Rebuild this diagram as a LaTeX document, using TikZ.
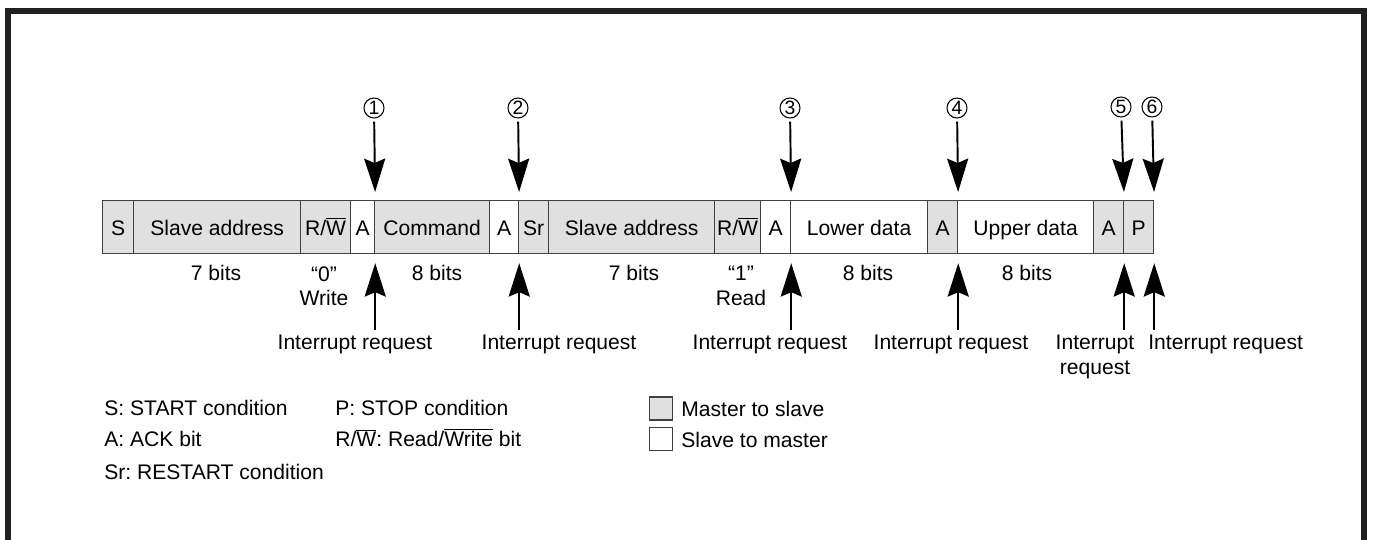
\documentclass[tikz,border=0pt]{standalone}
\usepackage{fontspec}
\setmainfont{Liberation Sans}
\usetikzlibrary{arrows.meta}
\definecolor{cellgray}{RGB}{224,224,224}
\definecolor{framegray}{RGB}{35,31,32}
\newcommand\ovl[1]{$\overline{\mbox{#1}}$}
\newcommand\rw{R/\ovl{W}}
\frenchspacing

\begin{document}
\begin{tikzpicture}[x=0.02cm, y=-0.02cm,
  font=\fontsize{12}{14}\selectfont,
  >={Stealth[length=19pt, width=12pt, inset=2.5pt]},
  cellbox/.style={draw=black!75, line width=0.7pt, inner sep=0pt,
    minimum height=1.06cm, text height=0.9em, text depth=0pt, anchor=north west},
  mcell/.style={cellbox, fill=cellgray},
  scell/.style={cellbox, fill=white},
  keybox/.style={draw=black!75, line width=0.7pt, inner sep=0pt, minimum size=0.46cm},
  irq/.style={->, line width=1.1pt},
  lbl/.style={inner sep=0pt},
  num/.style={circle, draw, line width=0.6pt, inner sep=0pt, minimum size=0.4cm,
    font=\fontsize{11}{12}\selectfont}]
  \useasboundingbox (0,0) rectangle (1374,540);
  % Frame (open at the bottom)
  \draw[framegray, line width=3.4pt] (8,540) -- (8,11) -- (1364,11) -- (1364,540);
  % Bit fields: left/right edge, text, style, name
  \foreach \xa/\xb/\txt/\sty/\nm in {102/133/S/mcell/s, 133/300/Slave address/mcell/sa1,
      300/350/\rw/mcell/rw1, 350/374/A/scell/a1, 374/489/Command/mcell/cmd,
      489/518/A/scell/a2, 518/548/Sr/mcell/sr, 548/714/Slave address/mcell/sa2,
      714/760/\rw/mcell/rw2, 760/790/A/scell/a3, 790/927/Lower data/scell/lo,
      927/957/A/mcell/a4, 957/1093/Upper data/scell/up, 1093/1123/A/mcell/a5,
      1123/1153/P/mcell/p} {
    \node[\sty, minimum width={(\xb-\xa)*0.02cm}] (\nm) at (\xa,200) {\txt};
  }
  % Field widths under the bar
  \node[lbl, anchor=base] (w1) at (216,281) {7 bits};
  \node[lbl, anchor=north, align=center] (w2) at (324,266) {“0”\\Write};
  \node[lbl, anchor=base] (w3) at (437,281) {8 bits};
  \node[lbl, anchor=base] (w4) at (634,281) {7 bits};
  \node[lbl, anchor=north, align=center] (w5) at (741,266) {“1”\\Read};
  \node[lbl, anchor=base] (w6) at (868,281) {8 bits};
  \node[lbl, anchor=base] (w7) at (1027,281) {8 bits};
  % Numbered points
  \node[num] (n1) at (374,108) {1};
  \node[num] (n2) at (518,108) {2};
  \node[num] (n3) at (790,108) {3};
  \node[num] (n4) at (957,108) {4};
  \node[num] (n5) at (1121,107) {5};
  \node[num] (n6) at (1152,107) {6};
  \draw[irq, shorten >=0.16cm, shorten <=0.06cm] (n1) -- (a1.north east);
  \draw[irq, shorten >=0.16cm, shorten <=0.06cm] (n2) -- (a2.north east);
  \draw[irq, shorten >=0.16cm, shorten <=0.06cm] (n3) -- (a3.north east);
  \draw[irq, shorten >=0.16cm, shorten <=0.06cm] (n4) -- (a4.north east);
  \draw[irq, shorten >=0.16cm, shorten <=0.06cm] (n5) -- (a5.north east);
  \draw[irq, shorten >=0.16cm, shorten <=0.06cm] (n6) -- (p.north east);
  % Interrupt requests
  \node[lbl, anchor=base] (q1) at (355,350) {Interrupt request};
  \node[lbl, anchor=base] (q2) at (559,350) {Interrupt request};
  \node[lbl, anchor=base] (q3) at (770,350) {Interrupt request};
  \node[lbl, anchor=base] (q4) at (951,350) {Interrupt request};
  \node[lbl, anchor=north, align=center] (q5) at (1095,335) {Interrupt\\request};
  \node[lbl, anchor=base west] (q6) at (1148,350) {Interrupt request};
  \draw[irq, shorten >=0.18cm, shorten <=0.1cm] (a1.south east |- q1.north) -- (a1.south east);
  \draw[irq, shorten >=0.18cm, shorten <=0.1cm] (a2.south east |- q2.north) -- (a2.south east);
  \draw[irq, shorten >=0.18cm, shorten <=0.1cm] (a3.south east |- q3.north) -- (a3.south east);
  \draw[irq, shorten >=0.18cm, shorten <=0.1cm] (a4.south east |- q4.north) -- (a4.south east);
  \draw[irq, shorten >=0.18cm, shorten <=0.1cm] (a5.south east |- q5.north) -- (a5.south east);
  \draw[irq, shorten >=0.18cm, shorten <=0.1cm] (p.south east |- q6.north) -- (p.south east);
  % Key
  \node[lbl, anchor=base west] (k1) at (104,416) {S: START condition};
  \node[lbl, anchor=base west] (k2) at (104,447) {A: ACK bit};
  \node[lbl, anchor=base west] (k3) at (104,480) {Sr: RESTART condition};
  \node[lbl, anchor=base west] (k4) at (335,416) {P: STOP condition};
  \node[lbl, anchor=base west] (k5) at (335,447) {\rw: Read/\ovl{Write} bit};
  \node[keybox, fill=cellgray] (km) at (661,408.5) {};
  \node[keybox, fill=white] (ks) at (661,439) {};
  \node[lbl, anchor=base west] (t1) at (681,417) {Master to slave};
  \node[lbl, anchor=base west] (t2) at (681,448) {Slave to master};
\end{tikzpicture}
\end{document}
